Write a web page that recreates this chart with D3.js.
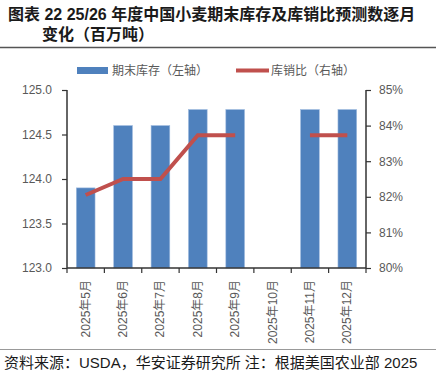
<!DOCTYPE html>
<html>
<head>
<meta charset="utf-8">
<script src="https://cdn.jsdelivr.net/npm/d3@7"></script>
<style>
  body { margin: 0; background: #fff; }
  svg { display: block; font-family: "Liberation Sans", "Noto Sans CJK SC", sans-serif; }
</style>
</head>
<body>
<div id="vis"></div>
<script>
// data
const months = ["2025年5月", "2025年6月", "2025年7月", "2025年8月", "2025年9月", "2025年10月", "2025年11月", "2025年12月"];
const stocks = [123.9, 124.6, 124.6, 124.78, 124.78, null, 124.78, 124.78];   // 期末库存, 百万吨
const ratio = [82.05, 82.5, 82.5, 83.73, 83.73, null, 83.73, 83.73];         // 库销比, %
const leftTicks = [123.0, 123.5, 124.0, 124.5, 125.0];
const rightTicks = [80, 81, 82, 83, 84, 85];

const W = 436, H = 377;
const svg = d3.select("#vis").append("svg")
  .attr("width", W)
  .attr("height", H);

const margin = { top: 90, right: 70, bottom: 109, left: 67 };
const width = W - margin.left - margin.right;
const height = H - margin.top - margin.bottom;

// title
const cjk = "\"Liberation Sans\", \"Noto Sans CJK SC\", sans-serif";
svg.append("text")
  .attr("x", 8).attr("y", 20)
  .attr("font-size", "16px").attr("font-weight", "bold").attr("fill", "#1a1a1a")
  .text("图表 22 25/26 年度中国小麦期末库存及库销比预测数逐月");
svg.append("text")
  .attr("x", 42).attr("y", 40)
  .attr("font-size", "16px").attr("font-weight", "bold").attr("fill", "#1a1a1a")
  .text("变化（百万吨）");
svg.append("line")
  .attr("x1", 0).attr("x2", W).attr("y1", 47.5).attr("y2", 47.5)
  .attr("stroke", "#555").attr("stroke-width", 1.5);

// footer
svg.append("line")
  .attr("x1", 0).attr("x2", W).attr("y1", 349.5).attr("y2", 349.5)
  .attr("stroke", "#999").attr("stroke-width", 1);
svg.append("text")
  .attr("x", 4).attr("y", 368)
  .attr("font-size", "15px").attr("fill", "#1a1a1a")
  .text("资料来源：USDA，华安证券研究所 注：根据美国农业部 2025");

const g = svg.append("g")
  .attr("transform", `translate(${margin.left},${margin.top})`);

const x = d3.scaleBand()
  .domain(months)
  .range([0, width])
  .paddingInner(0.5)
  .paddingOuter(0.25);

const yL = d3.scaleLinear().domain([123, 125]).range([height, 0]);
const yR = d3.scaleLinear().domain([80, 85]).range([height, 0]);

// bars
g.selectAll("rect.bar")
  .data(months.map((m, i) => ({ m, v: stocks[i] })).filter(d => d.v != null))
  .join("rect")
  .attr("class", "bar")
  .attr("x", d => x(d.m))
  .attr("y", d => yL(d.v))
  .attr("width", x.bandwidth())
  .attr("height", d => height - yL(d.v))
  .attr("fill", "#4F81BD")
  .attr("stroke", "#9DB9DE")
  .attr("stroke-width", 0.6);

// line (gap at missing month)
const line = d3.line()
  .defined(d => d.v != null)
  .x(d => x(d.m) + x.bandwidth() / 2)
  .y(d => yR(d.v));

g.append("path")
  .datum(months.map((m, i) => ({ m, v: ratio[i] })))
  .attr("d", line)
  .attr("fill", "none")
  .attr("stroke", "#C0504D")
  .attr("stroke-width", 4);

// axes
const axisColor = "#333";
const labelColor = "#595959";

const left = g.append("g")
  .call(d3.axisLeft(yL).tickValues(leftTicks).tickFormat(d3.format(".1f")).tickSize(5).tickPadding(10));
const right = g.append("g")
  .attr("transform", `translate(${width},0)`)
  .call(d3.axisRight(yR).tickValues(rightTicks).tickFormat(d => d + "%").tickSize(5).tickPadding(8));

// bottom axis: ticks at category boundaries
const step = x.step();
const bounds = d3.range(months.length + 1).map(i => i * step);
const bottom = g.append("g").attr("transform", `translate(0,${height})`);
bottom.append("line")
  .attr("x1", 0).attr("x2", width)
  .attr("stroke", axisColor).attr("stroke-width", 1.5);
bottom.selectAll("line.tick")
  .data(bounds)
  .join("line")
  .attr("class", "tick")
  .attr("x1", d => d).attr("x2", d => d)
  .attr("y1", 0).attr("y2", 5)
  .attr("stroke", axisColor).attr("stroke-width", 1.2);
bottom.selectAll("text")
  .data(months)
  .join("text")
  .attr("transform", d => `translate(${x(d) + x.bandwidth() / 2 + 4},12) rotate(-90)`)
  .attr("text-anchor", "end")
  .attr("font-size", "12px")
  .attr("fill", labelColor)
  .text(d => d);

[left, right].forEach(a => {
  a.select(".domain").attr("stroke", axisColor).attr("stroke-width", 1.5);
  a.selectAll(".tick line").attr("stroke", axisColor).attr("stroke-width", 1.2);
  a.selectAll(".tick text").attr("font-size", "12px").attr("fill", labelColor);
});
// remove outer tick stubs on the domain paths
left.select(".domain").attr("d", `M0,0V${height}`);
right.select(".domain").attr("d", `M0,0V${height}`);

// legend
const leg = svg.append("g");
leg.append("rect")
  .attr("x", 77).attr("y", 67).attr("width", 31).attr("height", 7)
  .attr("fill", "#4F81BD");
leg.append("text")
  .attr("x", 112).attr("y", 75)
  .attr("font-size", "12px").attr("fill", labelColor)
  .text("期末库存（左轴）");
leg.append("line")
  .attr("x1", 236).attr("x2", 269).attr("y1", 70.5).attr("y2", 70.5)
  .attr("stroke", "#C0504D").attr("stroke-width", 4);
leg.append("text")
  .attr("x", 271).attr("y", 75)
  .attr("font-size", "12px").attr("fill", labelColor)
  .text("库销比（右轴）");
</script>
</body>
</html>
